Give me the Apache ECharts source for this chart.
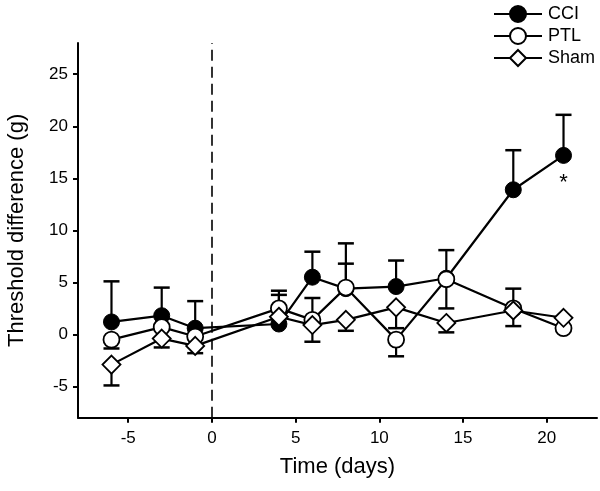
<!DOCTYPE html>
<html>
<head>
<meta charset="utf-8">
<script src="https://cdn.jsdelivr.net/npm/echarts@6/dist/echarts.min.js"></script>
<style>html,body{margin:0;padding:0;background:#fff;}#c{width:600px;height:491px;}</style>
</head>
<body>
<div id="c"></div>
<script>
const days = [-6, -3, -1, 4, 6, 8, 11, 14, 18, 21];
const cci = [1.2, 1.8, 0.6, 1.0, 5.5, 4.4, 4.6, 5.4, 13.9, 17.2];
const ptl = [-0.5, 0.7, -0.2, 2.5, 1.4, 4.5, -0.5, 5.3, 2.5, 0.6];
const sham = [-2.9, -0.4, -1.1, 1.7, 0.9, 1.4, 2.6, 1.1, 2.3, 1.6];
// error bar end values (one-sided), null = not visible
const cciErrEnd = [5.1, 4.5, 3.2, 3.8, 7.95, 6.8, 7.1, 8.1, 17.7, 21.1];
const ptlErrEnd = [-1.35, null, null, 4.2, 3.5, 8.75, -2.1, 2.5, 4.4, null];
const shamErrEnd = [-4.9, -1.25, -1.8, null, -0.7, 0.35, 0.6, 0.2, 0.8, null];
const star = [[21, 14.6]];
const xTicks = [-5, 0, 5, 10, 15, 20];
const yTicks = [-5, 0, 5, 10, 15, 20, 25];

function pairs(ys) { return days.map((d, i) => [d, ys[i]]); }
function errData(ys, ends) {
  const out = [];
  days.forEach((d, i) => { if (ends[i] !== null) out.push([d, ys[i], ends[i]]); });
  return out;
}
function errSeries(data) {
  return {
    type: 'custom', z: 1, silent: true,
    data: data,
    renderItem: function (params, api) {
      const p0 = api.coord([api.value(0), api.value(1)]);
      const p1 = api.coord([api.value(0), api.value(2)]);
      const hw = 8;
      return {
        type: 'group',
        children: [
          { type: 'line', shape: { x1: p0[0], y1: p0[1], x2: p1[0], y2: p1[1] }, style: { stroke: '#000', lineWidth: 2.2 } },
          { type: 'line', shape: { x1: p1[0] - hw, y1: p1[1], x2: p1[0] + hw, y2: p1[1] }, style: { stroke: '#000', lineWidth: 2.5 } }
        ]
      };
    }
  };
}

const font = 'Liberation Sans, Arial, sans-serif';
const chart = echarts.init(document.getElementById('c'), null, { renderer: 'canvas' });
chart.setOption({
  animation: false,
  backgroundColor: '#fff',
  grid: { left: 78, right: 3, top: 43, bottom: 73.3, containLabel: false, outerBoundsMode: 'none' },
  legend: {
    orient: 'vertical', left: 488, top: 0, itemWidth: 48, itemHeight: 20, itemGap: 4,
    textStyle: { fontFamily: font, fontSize: 18, color: '#000', padding: [0, 0, 0, 1] },
    data: ['CCI', 'PTL', 'Sham']
  },
  xAxis: {
    type: 'value', min: -8, max: 23, interval: 1,
    name: 'Time (days)', nameLocation: 'middle', nameGap: 38,
    nameTextStyle: { fontFamily: font, fontSize: 22, color: '#000' },
    axisLine: { show: true, onZero: false, lineStyle: { color: '#000', width: 2 } },
    axisTick: { show: true, length: 5, lineStyle: { color: '#000', width: 2 },
      customValues: xTicks },
    axisLabel: { fontFamily: font, fontSize: 17, color: '#000', margin: 12,
      customValues: xTicks },
    splitLine: { show: false }
  },
  yAxis: {
    type: 'value', min: -8, max: 28, interval: 1,
    name: 'Threshold difference (g)', nameLocation: 'middle', nameGap: 50,
    nameTextStyle: { fontFamily: font, fontSize: 22, color: '#000' },
    axisLine: { show: true, onZero: false, lineStyle: { color: '#000', width: 2 } },
    axisTick: { show: true, length: 5, lineStyle: { color: '#000', width: 2 },
      customValues: yTicks },
    axisLabel: { fontFamily: font, fontSize: 17, color: '#000', margin: 10,
      customValues: yTicks },
    splitLine: { show: false }
  },
  series: [
    {
      type: 'line', name: '__dash', data: [], silent: true,
      markLine: {
        silent: true, symbol: ['none', 'none'], label: { show: false },
        lineStyle: { color: '#000', width: 1.6, type: [11, 6] },
        data: [{ xAxis: 0 }]
      }
    },
    errSeries(errData(cci, cciErrEnd)),
    errSeries(errData(ptl, ptlErrEnd)),
    errSeries(errData(sham, shamErrEnd)),
    {
      type: 'line', name: 'CCI', data: pairs(cci), z: 3,
      symbol: 'circle', symbolSize: 16,
      lineStyle: { color: '#000', width: 2.2 },
      itemStyle: { color: '#000', borderColor: '#000', borderWidth: 1 }
    },
    {
      type: 'line', name: 'PTL', data: pairs(ptl), z: 4,
      symbol: 'circle', symbolSize: 16,
      lineStyle: { color: '#000', width: 2.2 },
      itemStyle: { color: '#fff', borderColor: '#000', borderWidth: 1.8 }
    },
    {
      type: 'line', name: 'Sham', data: pairs(sham), z: 5,
      symbol: 'diamond', symbolSize: 18,
      lineStyle: { color: '#000', width: 2.2 },
      itemStyle: { color: '#fff', borderColor: '#000', borderWidth: 1.8 }
    },
    {
      type: 'custom', name: '__star', data: star, z: 6, silent: true,
      renderItem: function (params, api) {
        const p = api.coord([api.value(0), api.value(1)]);
        return { type: 'text', x: p[0], y: p[1],
          style: { text: '*', fontFamily: font, fontSize: 22, fill: '#000', align: 'center', verticalAlign: 'middle' } };
      }
    }
  ]
});
</script>
</body>
</html>
